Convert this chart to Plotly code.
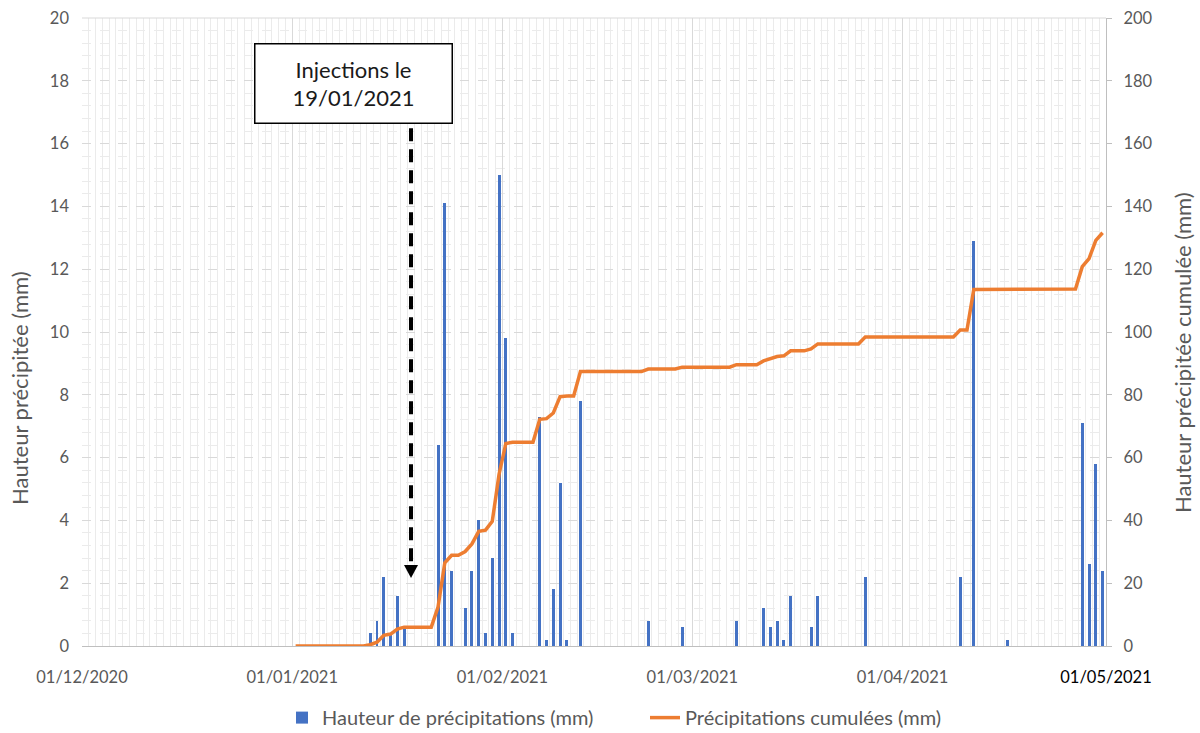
import plotly.graph_objects as go

# ---------------- data ----------------
rain_dates = ["2021-01-12", "2021-01-13", "2021-01-14", "2021-01-15", "2021-01-16", "2021-01-17",
              "2021-01-22", "2021-01-23", "2021-01-24", "2021-01-26", "2021-01-27", "2021-01-28",
              "2021-01-29", "2021-01-30", "2021-01-31", "2021-02-01", "2021-02-02",
              "2021-02-06", "2021-02-07", "2021-02-08", "2021-02-09", "2021-02-10", "2021-02-12",
              "2021-02-22", "2021-02-27",
              "2021-03-07", "2021-03-11", "2021-03-12", "2021-03-13", "2021-03-14", "2021-03-15",
              "2021-03-18", "2021-03-19", "2021-03-26",
              "2021-04-09", "2021-04-11", "2021-04-16", "2021-04-27", "2021-04-28", "2021-04-29",
              "2021-04-30"]
rain_mm = [0.4, 0.8, 2.2, 0.4, 1.6, 0.6,
           6.4, 14.1, 2.4, 1.2, 2.4, 4.0,
           0.4, 2.8, 15.0, 9.8, 0.4,
           7.3, 0.2, 1.8, 5.2, 0.2, 7.8,
           0.8, 0.6,
           0.8, 1.2, 0.6, 0.8, 0.2, 1.6,
           0.6, 1.6, 2.2,
           2.2, 12.9, 0.2, 7.1, 2.6, 5.8,
           2.4]

cum_dates = ["2021-01-01", "2021-01-11", "2021-01-12", "2021-01-13", "2021-01-14", "2021-01-15",
             "2021-01-16", "2021-01-17", "2021-01-21", "2021-01-22", "2021-01-23", "2021-01-24",
             "2021-01-25", "2021-01-26", "2021-01-27", "2021-01-28", "2021-01-29", "2021-01-30",
             "2021-01-31", "2021-02-01", "2021-02-02", "2021-02-05", "2021-02-06", "2021-02-07",
             "2021-02-08", "2021-02-09", "2021-02-10", "2021-02-11", "2021-02-12", "2021-02-21",
             "2021-02-22", "2021-02-26", "2021-02-27", "2021-03-06", "2021-03-07", "2021-03-10",
             "2021-03-11", "2021-03-12", "2021-03-13", "2021-03-14", "2021-03-15", "2021-03-17",
             "2021-03-18", "2021-03-19", "2021-03-25", "2021-03-26", "2021-04-08", "2021-04-09",
             "2021-04-10", "2021-04-11", "2021-04-15", "2021-04-16", "2021-04-26", "2021-04-27",
             "2021-04-28", "2021-04-29", "2021-04-30"]
cum_mm = [0, 0, 0.4, 1.2, 3.4, 3.8,
          5.4, 6.0, 6.0, 12.4, 26.5, 28.9,
          28.9, 30.1, 32.5, 36.5, 36.9, 39.7,
          54.7, 64.5, 64.9, 64.9, 72.2, 72.4,
          74.2, 79.4, 79.6, 79.6, 87.4, 87.4,
          88.2, 88.2, 88.8, 88.8, 89.6, 89.6,
          90.8, 91.4, 92.2, 92.4, 94.0, 94.0,
          94.6, 96.2, 96.2, 98.4, 98.4, 100.6,
          100.6, 113.5, 113.5, 113.7, 113.7, 120.8,
          123.4, 129.2, 131.6]

tick_dates = ["2020-12-01", "2021-01-01", "2021-02-01", "2021-03-01", "2021-04-01", "2021-05-01"]
tick_labels = ["01/12/2020", "01/01/2021", "01/02/2021", "01/03/2021", "01/04/2021",
               "<span style='color:#000000'>01/05/2021</span>"]

left_title = "Hauteur précipitée (mm)"
right_title = "Hauteur précipitée cumulée (mm)"

# ---------------- style ----------------
DAY = 86400000
FONT = "Lato, 'Open Sans', sans-serif"
GRAY = "#595959"
GRID = "#d9d9d9"
MINOR = "#ebebeb"

fig = go.Figure()
fig.add_trace(go.Bar(
    x=rain_dates, y=rain_mm, xperiod=DAY, xperiodalignment="middle",
    width=0.44 * DAY, marker=dict(color="#4472C4", line=dict(width=0)),
    name="Hauteur de précipitations (mm)"))
fig.add_trace(go.Scatter(
    x=cum_dates, y=cum_mm, xperiod=DAY, xperiodalignment="middle",
    mode="lines", line=dict(color="#ED7D31", width=3.5), yaxis="y2",
    name="Précipitations cumulées (mm)"))

fig.update_layout(
    width=1200, height=733,
    margin=dict(l=82, r=94, t=18, b=87, autoexpand=False),
    paper_bgcolor="white", plot_bgcolor="white",
    font=dict(family=FONT, color=GRAY, size=16),
    bargap=0,
    showlegend=True,
    legend=dict(orientation="h", xref="container", yref="container",
                x=0.5375, xanchor="center", y=0.021, yanchor="middle",
                font=dict(size=20, color=GRAY), bgcolor="rgba(0,0,0,0)",
                entrywidth=318, entrywidthmode="pixels"),
    xaxis=dict(
        type="date", range=["2020-12-01", "2021-05-01"], automargin=False,
        tickmode="array", tickvals=tick_dates, ticktext=tick_labels,
        showgrid=True, gridcolor=GRID, gridwidth=1,
        minor=dict(tickmode="linear", tick0="2020-12-01", dtick=DAY,
                   showgrid=True, gridcolor=MINOR, gridwidth=1),
        showline=True, linecolor="#bfbfbf", linewidth=1.3,
        ticks="", zeroline=False,
        tickfont=dict(size=16.5, color=GRAY), ticklabelstandoff=16,
    ),
    yaxis=dict(
        range=[0, 20], dtick=2, tick0=0, automargin=False,
        showgrid=True, gridcolor=GRID, gridwidth=1, griddash="dash",
        minor=dict(tickmode="linear", tick0=0, dtick=0.4,
                   showgrid=True, gridcolor=MINOR, gridwidth=1),
        zeroline=False, showline=False, ticks="",
        tickfont=dict(size=16.5, color=GRAY), ticklabelstandoff=12,
    ),
    yaxis2=dict(
        overlaying="y", side="right", range=[0, 200], dtick=20, tick0=0, automargin=False,
        showgrid=False, zeroline=False,
        showline=True, linecolor="#bfbfbf", linewidth=1.3,
        ticks="outside", ticklen=5, tickcolor="#bfbfbf",
        tickfont=dict(size=16.5, color=GRAY), ticklabelstandoff=8,
    ),
)

# axis titles
fig.add_annotation(xref="paper", yref="paper", x=-0.0605, y=0.411, xanchor="center", yanchor="middle",
                   text=left_title, textangle=-90, showarrow=False,
                   font=dict(family=FONT, size=22, color=GRAY))
fig.add_annotation(xref="paper", yref="paper", x=1.0742, y=0.468, xanchor="center", yanchor="middle",
                   text=right_title, textangle=-90, showarrow=False,
                   font=dict(family=FONT, size=22, color=GRAY))

# top border of plot area
fig.add_shape(type="line", xref="paper", yref="paper", x0=0, x1=1, y0=1, y1=1,
              line=dict(color=GRID, width=1))

# callout: dashed arrow + box
ARROW_X = 0.3213
fig.add_shape(type="line", xref="paper", yref="paper", x0=ARROW_X, x1=ARROW_X,
              y0=0.135, y1=0.825, line=dict(color="black", width=4, dash="13px,8px"))
fig.add_shape(type="path", xref="paper", yref="paper",
              xsizemode="pixel", ysizemode="pixel", xanchor=ARROW_X, yanchor=0.129,
              path="M -7,0 L 7,0 L 0,-13 Z", fillcolor="black", line=dict(width=0))
fig.add_annotation(
    xref="paper", yref="paper", x=0.265, y=0.896, xanchor="center", yanchor="middle",
    text="Injections le<br>19/01/2021", showarrow=False, align="center",
    font=dict(family=FONT, size=22, color="#1a1a1a"),
    bgcolor="white", bordercolor="black", borderwidth=1.5, borderpad=2,
    width=192, height=74)

fig.write_html("out.html", config={"displayModeBar": False},
               post_script="document.body.style.margin='0';")
